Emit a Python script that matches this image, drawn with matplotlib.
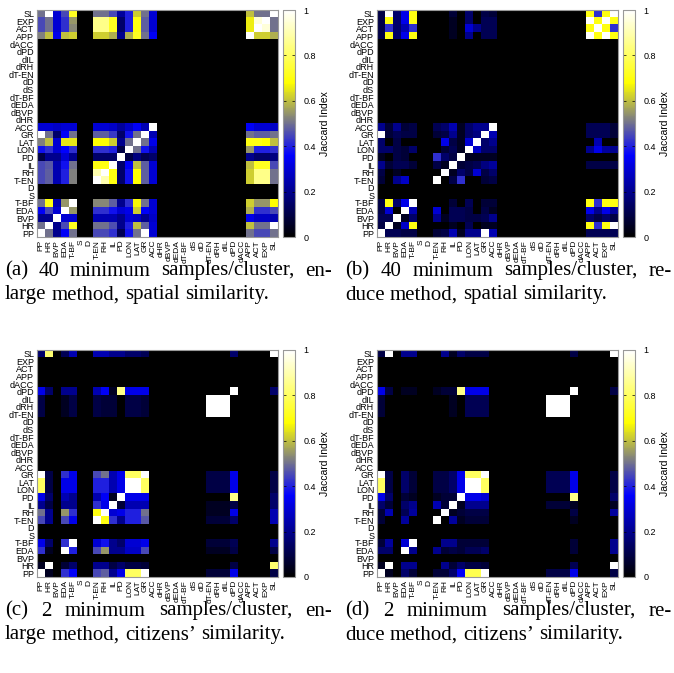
import numpy as np
import matplotlib
matplotlib.use("Agg")
import matplotlib.pyplot as plt
from matplotlib.colors import LinearSegmentedColormap

# feature order, bottom->top on y and left->right on x
labels = ['PP', 'HR', 'BVP', 'EDA', 'T-BF', 'S', 'D', 'T-EN', 'RH', 'IL', 'PD', 'LON',
          'LAT', 'GR', 'ACC', 'dHR', 'dBVP', 'dEDA', 'dT-BF', 'dS', 'dD', 'dT-EN',
          'dRH', 'dIL', 'dPD', 'dACC', 'APP', 'ACT', 'EXP', 'SL']

# columns that carry non-zero values (all other cells are 0)
cols_ab = ['PP', 'HR', 'BVP', 'EDA', 'T-BF', 'T-EN', 'RH', 'IL', 'PD', 'LON', 'LAT',
           'GR', 'ACC', 'APP', 'ACT', 'EXP', 'SL']
cols_cd = ['PP', 'HR', 'BVP', 'EDA', 'T-BF', 'T-EN', 'RH', 'IL', 'PD', 'LON', 'LAT',
           'GR', 'dT-EN', 'dRH', 'dIL', 'dPD', 'SL']

# (a) 40 samples, enlarge, spatial
jac_a = {
    'SL':   [.5, 1, .3, .45, .72, .5, .5, .45, .22, .4, .62, .5, .3, .6, .5, .5, 1],
    'EXP':  [.45, .5, .3, .42, .55, .85, .85, .72, .15, .4, .7, .48, .3, .66, .95, 1, .5],
    'ACT':  [.45, .5, .3, .42, .53, .85, .85, .72, .15, .4, .7, .48, .3, .66, 1, .95, .5],
    'APP':  [.52, .6, .33, .6, .62, .62, .62, .58, .2, .58, .72, .5, .35, 1, .62, .62, .58],
    'ACC':  [.3, .3, .28, .3, .3, .3, .3, .28, .22, .28, .35, .25, 1, .35, .3, .3, .28],
    'GR':   [1, .5, .15, .35, .5, .48, .48, .43, .15, .38, .5, 1, .25, .5, .48, .48, .5],
    'LAT':  [.52, .6, .3, .65, .65, .68, .68, .62, .2, .5, 1, .5, .33, .7, .7, .68, .6],
    'LON':  [.38, .42, .3, .36, .42, .42, .42, .4, .1, 1, .5, .38, .25, .55, .4, .4, .42],
    'PD':   [.1, .2, .2, .3, .2, .15, .15, .15, 1, .1, .18, .12, .15, .2, .15, .15, .18],
    'IL':   [.45, .47, .25, .38, .5, .7, .7, 1, .15, .35, .6, .48, .3, .6, .72, .72, .45],
    'RH':   [.45, .48, .25, .4, .52, .9, 1, .7, .15, .38, .68, .48, .3, .62, .85, .85, .5],
    'T-EN': [.45, .48, .25, .4, .52, 1, .9, .7, .15, .38, .68, .48, .3, .62, .85, .85, .5],
    'T-BF': [.5, .7, .25, .55, 1, .53, .53, .48, .2, .42, .67, .5, .3, .62, .55, .55, .68],
    'EDA':  [.35, .45, .3, 1, .55, .42, .42, .38, .3, .33, .62, .35, .3, .58, .42, .42, .45],
    'BVP':  [.2, .2, 1, .3, .3, .25, .25, .25, .2, .3, .28, .2, .28, .33, .28, .28, .25],
    'HR':   [.5, 1, .2, .45, .72, .5, .5, .46, .2, .4, .6, .48, .3, .6, .5, .5, 1],
    'PP':   [1, .5, .2, .35, .5, .45, .45, .42, .12, .38, .5, 1, .3, .5, .45, .45, .5],
}

# (b) 40 samples, reduce, spatial
jac_b = {
    'SL':   [.1, 1, .15, .33, .7, 0, 0, .08, 0, .15, 0, .1, .08, .7, .42, .7, 1],
    'EXP':  [.1, .7, .15, .33, .7, 0, 0, .05, 0, .15, 0, .12, .12, 1, .7, 1, .7],
    'ACT':  [.1, .42, .15, .25, .42, 0, 0, .05, 0, .3, .2, .12, .12, .7, 1, .7, .42],
    'APP':  [.1, .7, .15, .33, .7, 0, 0, .05, 0, .2, 0, .12, .12, 1, .7, 1, .7],
    'ACC':  [.2, .08, .2, .08, .1, .12, .15, .25, .05, .15, .2, .2, 1, .12, .12, .12, .08],
    'GR':   [1, .08, .12, .1, .1, .08, .1, .2, .05, .15, .18, 1, .25, .12, .12, .12, .08],
    'LAT':  [.15, 0, .1, 0, 0, 0, .33, .1, .05, .3, 1, .15, .2, 0, .25, 0, 0],
    'LON':  [.15, .15, .1, .08, .15, 0, .08, .12, .05, 1, .28, .15, .15, .2, .33, .22, .2],
    'PD':   [.05, 0, .1, .08, 0, .42, .15, .1, 1, .05, .05, .05, .05, 0, 0, 0, 0],
    'IL':   [.2, .08, .12, .12, .08, .1, .05, 1, .08, .1, .12, .18, .22, .1, .1, .1, .1],
    'RH':   [.1, 0, .05, 0, 0, 0, 1, .05, .15, .1, .3, .1, .15, 0, 0, 0, 0],
    'T-EN': [.08, 0, .2, .28, 0, 1, 0, .1, .42, 0, 0, .08, .1, 0, 0, 0, 0],
    'T-BF': [.1, .7, .15, .33, 1, 0, 0, .08, 0, .12, 0, .08, .08, .7, .42, .7, .7],
    'EDA':  [.1, .3, 0, 1, .25, .3, 0, .12, .12, .1, 0, .1, .05, .33, .2, .33, .22],
    'BVP':  [.12, .12, 1, .05, .15, .2, .05, .12, .12, .1, .1, .12, .2, .15, .1, .15, .1],
    'HR':   [.1, 1, .05, .28, .7, 0, 0, .05, 0, .12, 0, .05, .05, .7, .42, .7, 1],
    'PP':   [1, .12, .12, .1, .1, .08, .1, .25, .05, .2, .2, 1, .25, .12, .12, .12, .12],
}

# (c) 2 samples, enlarge, citizens
jac_c = {
    'SL':    [.15, .82, 0, .12, .25, .25, .25, .2, .2, .15, .15, .12, 0, 0, 0, .15, 1],
    'dPD':   [.33, .15, 0, .2, .2, .25, .35, .05, .85, .33, .33, .33, 0, 0, 0, 1, .15],
    'dIL':   [.1, 0, 0, .05, .1, .1, .08, .08, 0, .1, .1, .08, 1, 1, 1, 0, 0],
    'dRH':   [.1, 0, 0, .05, .1, .1, .08, .08, 0, .1, .1, .08, 1, 1, 1, 0, 0],
    'dT-EN': [.1, 0, 0, .05, .1, .1, .08, .08, 0, .1, .1, .08, 1, 1, 1, 0, 0],
    'GR':    [1, .1, 0, .42, .33, .45, .5, .25, .33, .8, .8, 1, .1, .1, .1, .33, .1],
    'LAT':   [.8, .1, 0, .33, .33, .4, .4, .25, .33, 1, 1, .8, .1, .1, .1, .33, .1],
    'LON':   [.8, .1, 0, .33, .33, .4, .4, .25, .33, 1, 1, .8, .1, .1, .1, .33, .1],
    'PD':    [.33, .15, 0, .25, .2, .25, .35, .05, 1, .33, .33, .33, 0, 0, 0, .85, .15],
    'IL':    [.2, .1, 0, .2, .2, .42, .33, 1, .08, .25, .25, .25, .05, .05, .05, .1, .15],
    'RH':    [.5, .2, 0, .55, .42, .7, 1, .3, .33, .4, .4, .5, .05, .05, .05, .33, .25],
    'T-EN':  [.45, .2, 0, .45, .33, 1, .7, .42, .2, .4, .4, .47, .08, .08, .08, .15, .25],
    'T-BF':  [.33, .15, 0, .42, 1, .3, .38, .2, .15, .3, .3, .33, .08, .08, .08, .12, .2],
    'EDA':   [.42, .05, 0, 1, .4, .45, .55, .2, .2, .28, .28, .45, .05, .05, .05, .1, .1],
    'HR':    [.05, 1, 0, .08, .15, .2, .2, .1, .15, .1, .1, .08, 0, 0, 0, .1, .82],
    'PP':    [1, .05, 0, .42, .35, .45, .48, .2, .33, .8, .8, 1, .08, .08, .08, .33, .1],
}

# (d) 2 samples, reduce, citizens
jac_d = {
    'SL':    [.1, 1, 0, .2, .2, 0, .2, .05, .15, .1, .1, .1, 0, 0, 0, .1, 1],
    'dPD':   [.33, .1, 0, .05, .05, .05, .08, .08, .85, .33, .33, .33, 0, 0, 0, 1, .1],
    'dIL':   [.08, 0, 0, 0, 0, 0, 0, .05, 0, .12, .12, .12, 1, 1, 1, 0, 0],
    'dRH':   [.08, 0, 0, 0, 0, 0, 0, .05, 0, .12, .12, .12, 1, 1, 1, 0, 0],
    'dT-EN': [.08, 0, 0, 0, 0, 0, 0, .05, 0, .12, .12, .12, 1, 1, 1, 0, 0],
    'GR':    [1, .1, 0, .15, .08, .1, .1, .15, .33, .8, .8, 1, .12, .12, .12, .33, .1],
    'LAT':   [.8, .1, 0, .15, .08, .1, .1, .15, .33, 1, 1, .8, .12, .12, .12, .33, .1],
    'LON':   [.8, .1, 0, .15, .08, .1, .1, .15, .33, 1, 1, .8, .12, .12, .12, .33, .1],
    'PD':    [.33, .15, 0, .08, .05, .05, .08, .08, 1, .33, .33, .3, 0, 0, 0, .85, .15],
    'IL':    [.15, .08, 0, .15, .2, .25, .08, 1, .05, .2, .2, .2, .08, .08, .08, .05, .05],
    'RH':    [.08, .25, 0, .12, .22, 0, 1, .05, .08, .1, .1, .1, 0, 0, 0, .1, .22],
    'T-EN':  [.08, 0, 0, .22, 0, 1, 0, .22, .05, .08, .08, .08, 0, 0, 0, .05, 0],
    'T-BF':  [.08, .22, 0, .3, 1, 0, .2, .2, .08, .08, .08, .08, 0, 0, 0, .08, .2],
    'EDA':   [.15, .15, 0, 1, .2, .2, .08, .1, .08, .12, .12, .15, 0, 0, 0, .08, .2],
    'HR':    [.05, 1, 0, .2, .2, 0, .2, .08, .15, .1, .1, .08, 0, 0, 0, .12, 1],
    'PP':    [1, .05, 0, .15, .08, .08, .08, .15, .35, .78, .78, 1, .1, .1, .1, .33, .1],
}

captions = [
    ("(a) 40 minimum samples/cluster, en-", "large method, spatial similarity."),
    ("(b) 40 minimum samples/cluster, re-", "duce method, spatial similarity."),
    ("(c) 2 minimum samples/cluster, en-", "large method, citizens\u2019 similarity."),
    ("(d) 2 minimum samples/cluster, re-", "duce method, citizens\u2019 similarity."),
]


def build(rows, cols):
    m = np.zeros((len(labels), len(labels)))
    for r, vals in rows.items():
        for c, v in zip(cols, vals):
            m[labels.index(r), labels.index(c)] = v
    return m


cmap = LinearSegmentedColormap.from_list(
    "jac", [(0, (0, 0, 0)), (0.36, (0, 0, 1)), (0.52, (0.5, 0.5, 0.5)),
            (0.68, (1, 1, 0)), (1, (1, 1, 1))])

W, H = 674, 673
plt.rcParams['font.family'] = ['Liberation Sans', 'DejaVu Sans']
fig = plt.figure(figsize=(W / 100, H / 100), dpi=100)

panels = [(build(jac_a, cols_ab), 37, 10), (build(jac_b, cols_ab), 377, 10),
          (build(jac_c, cols_cd), 37, 350), (build(jac_d, cols_cd), 377, 350)]

CAP_SIZE = 15


def px(x, y, w, h):
    return [x / W, 1 - (y + h) / H, w / W, h / H]


def put_line(text, x0, x1, y, justify):
    # caption lines are justified like the paper's two-column text
    r = fig.canvas.get_renderer()
    words = text.split(" ")
    ts = [fig.text(0, 1 - y / H, w, fontsize=CAP_SIZE, family='Liberation Serif',
                   va='center', ha='left') for w in words]
    ws = [t.get_window_extent(r).width for t in ts]
    if justify:
        gap = (x1 - x0 - sum(ws)) / (len(ws) - 1)
    else:
        gap = CAP_SIZE * 100 / 72 * 0.25
    x = x0
    for t, w in zip(ts, ws):
        t.set_x(x / W)
        x += w + gap


for (mat, x0, y0), cap in zip(panels, captions):
    ax = fig.add_axes(px(x0, y0, 241, 227))
    im = ax.imshow(mat, cmap=cmap, vmin=0, vmax=1, origin='lower',
                   aspect='auto', interpolation='nearest')
    ax.set_xticks(range(len(labels)))
    ax.set_xticklabels(labels, rotation=90, fontsize=6)
    ax.set_yticks(range(len(labels)))
    ax.set_yticklabels(labels, fontsize=6.5)
    ax.tick_params(length=0, pad=2)
    for s in ax.spines.values():
        s.set_color('#999999')
        s.set_linewidth(0.8)

    cax = fig.add_axes(px(x0 + 246, y0, 12, 227))
    cb = fig.colorbar(im, cax=cax)
    cb.set_ticks([0, 0.2, 0.4, 0.6, 0.8, 1])
    cb.set_ticklabels(['0', '0.2', '0.4', '0.6', '0.8', '1'])
    cax.tick_params(direction='in', length=2, width=0.5, left=True, right=True,
                    labelsize=6.5, pad=6)
    cb.outline.set_edgecolor('#999999')
    cb.outline.set_linewidth(0.8)
    cb.set_label('Jaccard Index', fontsize=7.5, labelpad=3)

    cx = x0 - 32
    put_line(cap[0], cx, cx + 327, y0 + 261, True)
    put_line(cap[1], cx, cx + 327, y0 + 285, False)

fig.savefig("out.png", dpi=100)
